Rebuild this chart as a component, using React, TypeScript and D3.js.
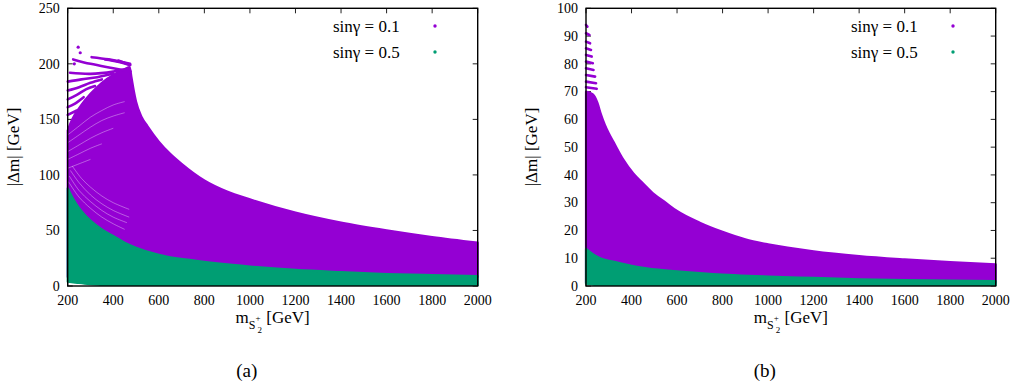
import React from 'react';
import * as d3 from 'd3';

// ---------- data ----------
const massTicks = [200, 400, 600, 800, 1000, 1200, 1400, 1600, 1800, 2000];
const yTicksA = [0, 50, 100, 150, 200, 250];
const yTicksB = [0, 10, 20, 30, 40, 50, 60, 70, 80, 90, 100];

const seriesLabels = ['sin\u03b3 = 0.1', 'sin\u03b3 = 0.5'];
const captions = ['(a)', '(b)'];

// panel (a), sin γ = 0.1 (purple) dense region
const purpleAMass = [200, 215, 230, 260, 300, 350, 400, 450, 472, 480, 490, 500, 525, 550, 600, 650, 700, 800, 900, 1000, 1200, 1400, 1600, 1800, 2000];
const purpleATop = [140, 148, 154, 163, 173, 183, 190, 195, 197, 188, 176, 166, 152, 144, 130, 119, 110, 95, 85, 78, 66, 57, 50, 44, 39];
const purpleABottom = purpleAMass.map(() => 8);
// sparse arcs in the upper-left corner of (a)
const purpleAArcs: [number, number][][] = [
  [[224, 204], [300, 200], [400, 196], [476, 193]],
  [[305, 206], [380, 204], [474, 200]],
  [[364, 204], [420, 202], [474, 199]],
  [[422, 203], [474, 199]],
  [[210, 192], [300, 191], [400, 193], [470, 196]],
  [[200, 184], [260, 186], [330, 188], [400, 191]],
  [[200, 176], [250, 179], [300, 183], [350, 186]],
  [[200, 168], [240, 172], [280, 177], [320, 180]],
  [[200, 161], [230, 164], [270, 170]],
  [[200, 154], [240, 158]],
];
const purpleADots: [number, number][] = [[246, 215], [255, 210], [229, 200]];
// thin white gaps between the point arcs inside the purple body of (a)
const purpleAGaps: [number, number][][] = [
  [[200, 136], [250, 144], [300, 152], [350, 158], [400, 163], [450, 166]],
  [[200, 129], [250, 136], [300, 143], [350, 149], [400, 153], [450, 156]],
  [[200, 121], [250, 127], [300, 133], [350, 138], [400, 142]],
  [[200, 114], [250, 119], [300, 124], [350, 128]],
  [[200, 106], [250, 110], [300, 114]],
  [[203, 94], [250, 80], [300, 70], [350, 62], [400, 56], [450, 51]],
  [[207, 99], [250, 86], [300, 76], [350, 68], [400, 62], [460, 57]],
  [[212, 104], [250, 93], [300, 82], [350, 74], [400, 68], [470, 62]],
  [[220, 108], [260, 97], [300, 89], [350, 81], [400, 75], [470, 69]],
];

// panel (a), sin γ = 0.5 (green)
const greenAMass = [200, 225, 250, 275, 300, 350, 400, 450, 500, 600, 750, 1000, 1200, 1400, 1600, 1800, 2000];
const greenATop = [88, 78, 70, 64, 59, 51, 45, 39, 34.5, 28, 23, 17.5, 14.5, 12.5, 10.8, 9.8, 9];
const greenABottom = [3.9, 3.3, 2.7, 2.2, 1.6, 0.9, 0.2, 0, 0, 0, 0, 0, 0, 0, 0, 0, 0];

// panel (b), sin γ = 0.1 (purple)
const purpleBMass = [200, 230, 250, 265, 283, 300, 320, 364, 408, 450, 500, 550, 600, 700, 800, 900, 1000, 1200, 1400, 1600, 1800, 2000];
const purpleBTop = [70, 69, 66, 62, 58, 55, 52, 45.5, 40.5, 37, 33, 30, 27, 22.8, 19.5, 16.8, 15, 12.5, 10.8, 9.6, 8.6, 7.8];
const purpleBBottom = purpleBMass.map(() => 1.2);
// short dashes at the ragged top-left of (b)
const purpleBDashLevel = [94, 91, 88, 85.6, 83.2, 80.8, 78.4, 76, 73.6, 71.6];
const purpleBDashEnd = [206, 215, 218, 222, 225, 230, 233, 240, 244, 247];

// panel (b), sin γ = 0.5 (green)
const greenBMass = [200, 230, 262, 320, 400, 467, 613, 758, 1000, 1200, 1400, 1600, 1800, 2000];
const greenBTop = [13.4, 11.5, 10, 8.8, 7.3, 6.4, 5.2, 4.3, 3.4, 2.9, 2.4, 2.1, 1.9, 1.8];
const greenBBottom = [0.8, 0.5, 0.3, 0.1, 0, 0, 0, 0, 0, 0, 0, 0, 0, 0];

// ---------- style ----------
const PURPLE = '#9400d3';
const GREEN = '#009e73';
const FONT = 'Liberation Serif';
const TOP = 8.3;
const BOTTOM = 286;

type PanelProps = {
  id: string;
  left: number;
  right: number;
  yMax: number;
  yTicks: number[];
  pMass: number[]; pTop: number[]; pBot: number[];
  gMass: number[]; gTop: number[]; gBot: number[];
  arcs: [number, number][][];
  gaps: [number, number][][];
  dots: [number, number][];
  dashLevel: number[]; dashEnd: number[];
  caption: string;
  yLabelX: number;
};

function Panel(p: PanelProps) {
  const x = d3.scaleLinear().domain([200, 2000]).range([p.left, p.right]);
  const y = d3.scaleLinear().domain([0, p.yMax]).range([BOTTOM, TOP]);
  const area = (m: number[], top: number[], bot: number[]) =>
    d3.area<number>()
      .x((_, i) => x(m[i]))
      .y0((_, i) => y(bot[i]))
      .y1((_, i) => y(top[i]))
      .curve(d3.curveMonotoneX)(m) || '';
  const line = d3.line<[number, number]>().x(d => x(d[0])).y(d => y(d[1])).curve(d3.curveCatmullRom);
  const cx = (p.left + p.right) / 2;
  const tick = 5;
  const fs = { fontFamily: FONT };
  return (
    <g>
      <defs>
        <clipPath id={`clip-${p.id}`}>
          <rect x={p.left - 3} y={TOP - 3} width={p.right - p.left + 6} height={BOTTOM - TOP + 3} />
        </clipPath>
      </defs>
      {massTicks.map(t => (
        <g key={`xt${t}`} stroke="#222" strokeWidth={1}>
          <line x1={x(t)} x2={x(t)} y1={BOTTOM} y2={BOTTOM - tick} />
          <line x1={x(t)} x2={x(t)} y1={TOP} y2={TOP + tick} />
        </g>
      ))}
      {p.yTicks.map(t => (
        <g key={`yt${t}`} stroke="#222" strokeWidth={1}>
          <line x1={p.left} x2={p.left + tick} y1={y(t)} y2={y(t)} />
          <line x1={p.right} x2={p.right - tick} y1={y(t)} y2={y(t)} />
        </g>
      ))}
      <g clipPath={`url(#clip-${p.id})`}>
        <path d={area(p.pMass, p.pTop, p.pBot)} fill={PURPLE} stroke={PURPLE} strokeWidth={2.2} strokeLinejoin="round" />
        {p.gaps.map((a, i) => (
          <path key={`gap${i}`} d={line(a) || ''} fill="none" stroke="#fff" strokeOpacity={0.45} strokeWidth={0.8} />
        ))}
        {p.arcs.map((a, i) => (
          <path key={`arc${i}`} d={line(a) || ''} fill="none" stroke={PURPLE} strokeWidth={2.6} strokeLinecap="round" />
        ))}
        {p.dots.map((d, i) => (
          <circle key={`dot${i}`} cx={x(d[0])} cy={y(d[1])} r={1.6} fill={PURPLE} />
        ))}
        {p.dashLevel.map((lv, i) => (
          <line key={`dash${i}`} x1={x(200)} x2={x(p.dashEnd[i])} y1={y(lv)} y2={y(lv - 0.6)}
            stroke={PURPLE} strokeWidth={2.6} strokeLinecap="round" />
        ))}
        <path d={area(p.gMass, p.gTop, p.gBot)} fill={GREEN} stroke={GREEN} strokeWidth={2.2} strokeLinejoin="round" />
      </g>
      <rect x={p.left} y={TOP} width={p.right - p.left} height={BOTTOM - TOP} fill="none" stroke="#000" strokeWidth={1.4} />
      <g style={fs} fontSize={14} fill="#000">
        {massTicks.map(t => (
          <text key={`xl${t}`} x={x(t)} y={BOTTOM + 19} textAnchor="middle">{t}</text>
        ))}
        {p.yTicks.map(t => (
          <text key={`yl${t}`} x={p.left - 8} y={y(t) + 4.8} textAnchor="end">{t}</text>
        ))}
      </g>
      <text x={cx} y={323} textAnchor="middle" style={fs} fontSize={17} fill="#000">
        m<tspan fontSize={12} dy={5.5}>S</tspan><tspan fontSize={9} dy={-8}>+</tspan><tspan fontSize={9} dx={-3} dy={12.5}>2</tspan><tspan fontSize={17} dy={-10}> [GeV]</tspan>
      </text>
      <text transform={`translate(${p.yLabelX},147) rotate(-90)`} textAnchor="middle" dominantBaseline="central"
        style={fs} fontSize={17} fill="#000">|Δm| [GeV]</text>
      <g style={fs} fontSize={17} fill="#000">
        <text x={p.right - 144.7} y={32}>{seriesLabels[0]}</text>
        <circle cx={p.right - 42.7} cy={26} r={1.7} fill={PURPLE} />
        <text x={p.right - 144.7} y={58}>{seriesLabels[1]}</text>
        <circle cx={p.right - 42.7} cy={52} r={1.7} fill={GREEN} />
      </g>
      <text x={cx - 26} y={377} textAnchor="middle" style={fs} fontSize={19} fill="#000">{p.caption}</text>
    </g>
  );
}

export default function App() {
  return (
    <div style={{ position: 'absolute', left: 0, top: 0 }}>
      <svg width={1021} height={389} style={{ display: 'block', background: '#fff' }}>
        <Panel id="a" left={67.7} right={477.7} yMax={250} yTicks={yTicksA}
          pMass={purpleAMass} pTop={purpleATop} pBot={purpleABottom}
          gMass={greenAMass} gTop={greenATop} gBot={greenABottom}
          arcs={purpleAArcs} gaps={purpleAGaps} dots={purpleADots} dashLevel={[]} dashEnd={[]}
          caption={captions[0]} yLabelX={13.7} />
        <Panel id="b" left={586} right={995.7} yMax={100} yTicks={yTicksB}
          pMass={purpleBMass} pTop={purpleBTop} pBot={purpleBBottom}
          gMass={greenBMass} gTop={greenBTop} gBot={greenBBottom}
          arcs={[]} gaps={[]} dots={[]} dashLevel={purpleBDashLevel} dashEnd={purpleBDashEnd}
          caption={captions[1]} yLabelX={531.7} />
      </svg>
    </div>
  );
}
